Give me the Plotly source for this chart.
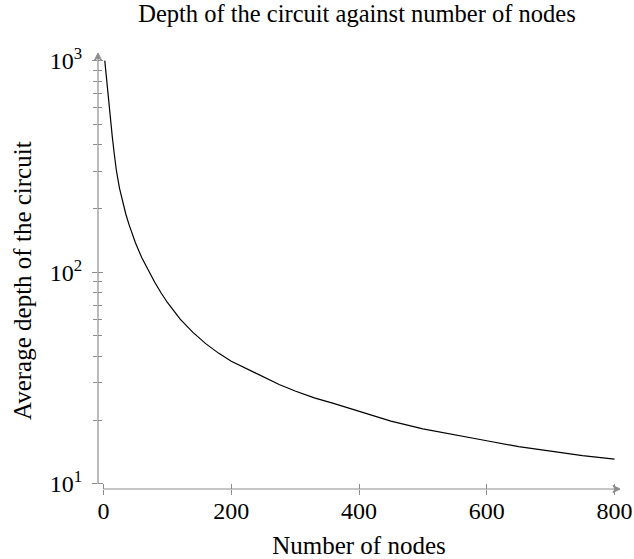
import plotly.graph_objects as go

nodes = [2, 4, 6, 8, 10, 12, 14, 17, 20, 25, 30, 35, 40, 50, 60, 70, 80, 90, 100, 120, 140, 160, 180,
         200, 225, 250, 275, 300, 330, 360, 400, 450, 500, 550, 600, 650, 700, 750, 800]
depth = [1000, 860, 740, 640, 560, 490, 430, 360, 305, 250, 215, 188, 168, 138, 117, 102, 90, 80, 72, 60, 52, 46, 41.5,
         38, 35, 32, 29.5, 27.5, 25.5, 24, 22, 19.8, 18.2, 17, 16, 15, 14.3, 13.6, 13.1]

x_ticks = [0, 200, 400, 600, 800]
y_ticks = [10, 100, 1000]
y_ticktext = ["10<sup>1</sup>", "10<sup>2</sup>", "10<sup>3</sup>"]
y_minor = [m * d for d in (10, 100) for m in range(2, 10)]

AX = "#8c8c8c"
FONT = "Liberation Serif"

fig = go.Figure()
fig.add_trace(go.Scatter(x=nodes, y=depth, mode="lines",
                         line=dict(color="black", width=1.2), showlegend=False))
fig.add_trace(go.Scatter(x=[None], y=[None], xaxis="x2", yaxis="y2", showlegend=False))

xr = [-8.6, 808.6]
yr = [0.976, 3.036]

common_x = dict(range=xr, tickvals=x_ticks, showgrid=False, zeroline=False, automargin=False,
                ticklen=5, tickcolor=AX, tickwidth=1)
common_y = dict(type="log", range=yr, tickvals=y_ticks, showgrid=False, zeroline=False, automargin=False,
                ticklen=5, tickcolor=AX, tickwidth=1)

fig.update_layout(
    width=634, height=559,
    margin=dict(l=98, r=14, t=53, b=70),
    paper_bgcolor="white", plot_bgcolor="white",
    font=dict(family=FONT, color="black", size=24),
    title=dict(text="Depth of the circuit against number of nodes", x=357 / 634, xanchor="center",
               xref="container", y=1 - 13 / 559, yanchor="middle", font=dict(size=24.5, family=FONT)),
    xaxis=dict(**common_x, ticks="outside", showline=False,
               ticktext=[str(v) for v in x_ticks], tickmode="array", ticklabelstandoff=-5,
               title=dict(text="Number of nodes", font=dict(size=25))),
    yaxis=dict(**common_y, ticks="outside", showline=False, ticktext=y_ticktext,
               tickmode="array", ticklabelstandoff=5,
               minor=dict(tickvals=y_minor, ticks="outside", ticklen=4, tickcolor=AX)),
    xaxis2=dict(**common_x, overlaying="x", anchor="y2", ticks="inside", showticklabels=False,
                showline=False),
    yaxis2=dict(**common_y, overlaying="y", anchor="x2", ticks="inside", showticklabels=False,
                showline=False,
                minor=dict(tickvals=y_minor, ticks="inside", ticklen=4, tickcolor=AX)),
)

fig.add_annotation(text="Average depth of the circuit", xref="paper", yref="paper",
                   x=0, xshift=-76, xanchor="center", y=(489 - 281) / 436, yanchor="middle",
                   textangle=-90, showarrow=False, font=dict(size=25, family=FONT))

# axis lines with arrow heads (pgfplots style)
fig.add_shape(type="line", xref="x", yref="paper", x0=0, x1=808, y0=0, y1=0,
              line=dict(color=AX, width=1.2))
fig.add_shape(type="line", xref="paper", yref="y", x0=0, x1=0, y0=10, y1=1070,
              line=dict(color=AX, width=1.2))
fig.add_shape(type="path", xref="x", yref="paper", xsizemode="pixel", ysizemode="pixel",
              xanchor=808.6, yanchor=0, path="M -7 -3.5 L 0 0 L -7 3.5 L -5 0 Z",
              fillcolor=AX, line=dict(color=AX, width=1))
fig.add_shape(type="path", xref="paper", yref="paper", xsizemode="pixel", ysizemode="pixel",
              xanchor=0, yanchor=1, path="M -3.5 -7 L 0 0 L 3.5 -7 L 0 -5 Z",
              fillcolor=AX, line=dict(color=AX, width=1))

fig.write_html("out.html", config={"displayModeBar": False},
               post_script="document.body.style.margin='0';")
